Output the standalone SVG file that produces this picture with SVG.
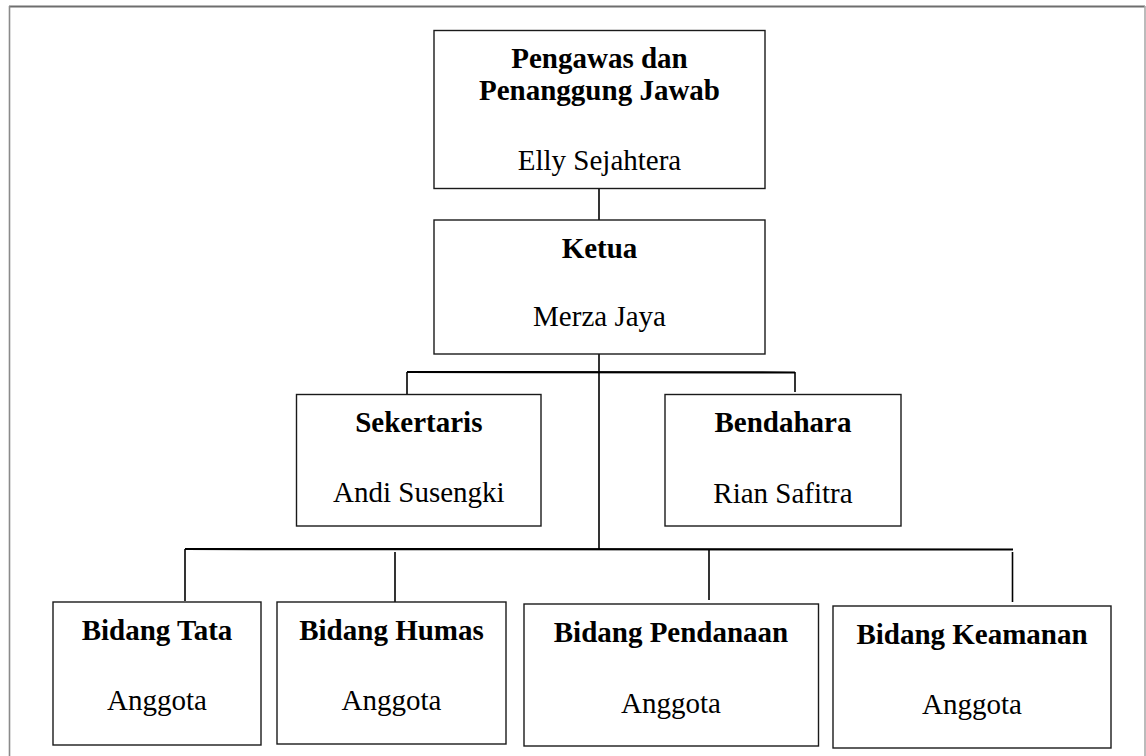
<svg xmlns="http://www.w3.org/2000/svg" width="1146" height="756" viewBox="0 0 1146 756">
<style>
.box{fill:#fff;stroke:#1a1a1a;stroke-width:1.4}
.t{font-family:"Liberation Serif","Times New Roman",serif;font-size:29px;fill:#000;text-anchor:middle}
.b{font-weight:bold}
.ln{stroke:#000;stroke-width:1.6;fill:none}
.ln2{stroke:#000;stroke-width:2.2;fill:none}
</style>
<rect width="1146" height="756" fill="#fff"/>
<g id="frame">
<line x1="9" y1="6.5" x2="1145" y2="6.5" stroke="#6e6e6e" stroke-width="2"/>
<line x1="9.5" y1="6" x2="9.5" y2="756" stroke="#8a8a8a" stroke-width="1.6"/>
<line x1="1145" y1="6" x2="1145" y2="756" stroke="#aaa" stroke-width="1.6"/>
</g>
<g id="connectors">
<line class="ln" x1="599" y1="188" x2="599" y2="220"/>
<line class="ln" x1="599" y1="354" x2="599" y2="549"/>
<line class="ln2" x1="407" y1="372" x2="795" y2="372.5"/>
<line class="ln" x1="407" y1="372" x2="407" y2="394"/>
<line class="ln" x1="795" y1="372" x2="795" y2="392"/>
<line class="ln2" x1="185" y1="549" x2="1013" y2="549.5"/>
<line class="ln" x1="185" y1="549" x2="185" y2="601"/>
<line class="ln" x1="395" y1="552" x2="395" y2="602"/>
<line class="ln" x1="709" y1="549" x2="709" y2="600"/>
<line class="ln" x1="1012.5" y1="552" x2="1012.5" y2="602"/>
</g>
<g id="node-pengawas">
<rect class="box" x="434" y="30.5" width="331" height="158"/>
<text class="t b" x="599.5" y="68">Pengawas dan</text>
<text class="t b" x="599.5" y="100">Penanggung Jawab</text>
<text class="t" x="599.5" y="170">Elly Sejahtera</text>
</g>
<g id="node-ketua">
<rect class="box" x="434" y="220" width="331" height="134"/>
<text class="t b" x="599.5" y="258">Ketua</text>
<text class="t" x="599.5" y="326">Merza Jaya</text>
</g>
<g id="node-sekertaris">
<rect class="box" x="296.5" y="394.5" width="244.5" height="131.5"/>
<text class="t b" x="418.8" y="432">Sekertaris</text>
<text class="t" x="418.8" y="502">Andi Susengki</text>
</g>
<g id="node-bendahara">
<rect class="box" x="665" y="394.5" width="236" height="131.5"/>
<text class="t b" x="783" y="432">Bendahara</text>
<text class="t" x="783" y="502.5">Rian Safitra</text>
</g>
<g id="node-tata">
<rect class="box" x="53" y="602" width="208" height="143"/>
<text class="t b" x="157" y="639.5">Bidang Tata</text>
<text class="t" x="157" y="710">Anggota</text>
</g>
<g id="node-humas">
<rect class="box" x="277" y="602" width="229" height="142"/>
<text class="t b" x="391.5" y="639.5">Bidang Humas</text>
<text class="t" x="391.5" y="710">Anggota</text>
</g>
<g id="node-pendanaan">
<rect class="box" x="524" y="604" width="294.5" height="142"/>
<text class="t b" x="671" y="641.7">Bidang Pendanaan</text>
<text class="t" x="671" y="712.7">Anggota</text>
</g>
<g id="node-keamanan">
<rect class="box" x="833" y="606" width="278" height="142"/>
<text class="t b" x="972" y="644">Bidang Keamanan</text>
<text class="t" x="972" y="714">Anggota</text>
</g>
</svg>
